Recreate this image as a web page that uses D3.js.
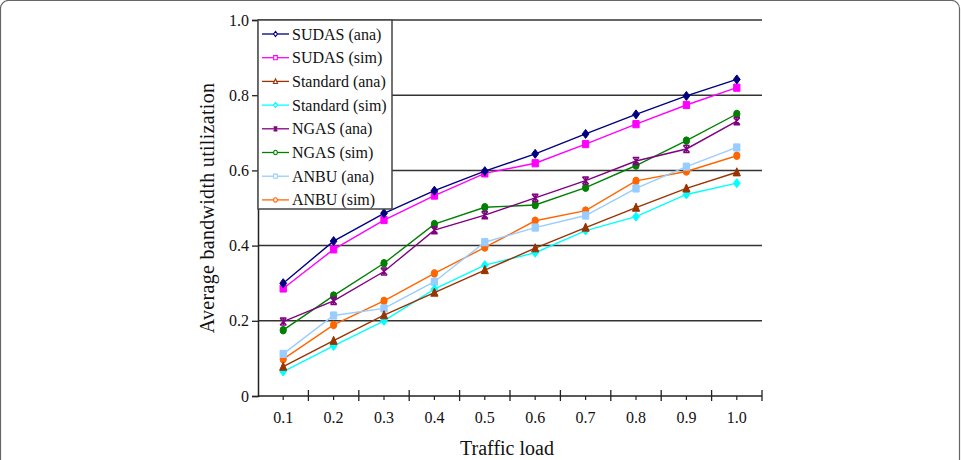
<!DOCTYPE html>
<html>
<head>
<meta charset="utf-8">
<script src="https://cdn.jsdelivr.net/npm/d3@7/dist/d3.min.js"></script>
<style>
  body { margin: 0; background: #fff; }
  svg { display: block; }
  svg text { font-family: "Liberation Serif", "Times New Roman", serif; }
</style>
</head>
<body>
<div id="chart"></div>
<script>
var loads = ["0.1", "0.2", "0.3", "0.4", "0.5", "0.6", "0.7", "0.8", "0.9", "1.0"];
var yTicks = [0, 0.2, 0.4, 0.6, 0.8, 1.0];

var sudasAna    = [0.300, 0.412, 0.486, 0.546, 0.598, 0.644, 0.697, 0.749, 0.798, 0.842];
var sudasSim    = [0.286, 0.390, 0.468, 0.533, 0.592, 0.619, 0.670, 0.723, 0.774, 0.820];
var standardAna = [0.078, 0.147, 0.215, 0.275, 0.335, 0.393, 0.448, 0.501, 0.552, 0.595];
var standardSim = [0.065, 0.133, 0.200, 0.284, 0.348, 0.381, 0.440, 0.477, 0.536, 0.566];
var ngasAna     = [0.198, 0.253, 0.331, 0.441, 0.481, 0.527, 0.573, 0.625, 0.657, 0.731];
var ngasSim     = [0.175, 0.267, 0.353, 0.457, 0.502, 0.508, 0.554, 0.613, 0.679, 0.750];
var anbuAna     = [0.112, 0.214, 0.233, 0.304, 0.409, 0.448, 0.480, 0.552, 0.610, 0.661];
var anbuSim     = [0.098, 0.189, 0.253, 0.326, 0.395, 0.466, 0.493, 0.572, 0.597, 0.639];

var seriesNames = ["SUDAS (ana)", "SUDAS (sim)", "Standard (ana)", "Standard (sim)",
                   "NGAS (ana)", "NGAS (sim)", "ANBU (ana)", "ANBU (sim)"];

// styling for each series (same order as seriesNames)
var styles = [
  {color: "#000080", shape: "diamond"},
  {color: "#ff00ff", shape: "square"},
  {color: "#993300", shape: "triangle"},
  {color: "#00ffff", shape: "diamond"},
  {color: "#800080", shape: "star"},
  {color: "#008000", shape: "circle"},
  {color: "#99ccff", shape: "square"},
  {color: "#ff6600", shape: "circle"}
];

var allValues = [sudasAna, sudasSim, standardAna, standardSim, ngasAna, ngasSim, anbuAna, anbuSim];
var series = seriesNames.map(function(name, i) {
  return {name: name, values: allValues[i], color: styles[i].color, shape: styles[i].shape};
});

var W = 961, H = 460;
var margin = {top: 20, right: 199, bottom: 64, left: 258},
    width = W - margin.left - margin.right,
    height = H - margin.top - margin.bottom;

var root = d3.select("#chart").append("svg")
    .attr("width", W)
    .attr("height", H);

// outer frame
root.append("rect")
    .attr("x", 0.5).attr("y", 0.5)
    .attr("width", W - 2).attr("height", H + 20)
    .attr("rx", 8)
    .attr("fill", "none")
    .attr("stroke", "#666")
    .attr("stroke-width", 1.2);

var svg = root.append("g")
    .attr("transform", "translate(" + margin.left + "," + margin.top + ")");

var x = d3.scaleBand().domain(loads).range([0, width]);
var y = d3.scaleLinear().domain([0, 1]).range([height, 0]);

// gridlines
svg.append("g").selectAll("line")
    .data(yTicks.filter(function(d) { return d > 0; }))
    .enter().append("line")
    .attr("x1", 0).attr("x2", width)
    .attr("y1", function(d) { return y(d); })
    .attr("y2", function(d) { return y(d); })
    .attr("stroke", "#333")
    .attr("stroke-width", 1.5);

// y axis
var yAxis = svg.append("g")
    .call(d3.axisLeft(y).tickValues(yTicks).tickSize(6).tickPadding(3)
      .tickFormat(function(d) { return d === 0 ? "0" : d3.format(".1f")(d); }));
yAxis.select(".domain").attr("stroke", "#222").attr("stroke-width", 1.5);
yAxis.selectAll(".tick line").attr("stroke", "#222").attr("stroke-width", 1.3);
yAxis.selectAll("text")
    .style("font-size", "16px")
    .style("font-family", "'Liberation Serif', serif")
    .attr("fill", "#111");

// x axis: long ticks between categories, short ticks at categories
var xAxis = svg.append("g").attr("transform", "translate(0," + height + ")");
xAxis.append("line")
    .attr("x1", 0).attr("x2", width)
    .attr("stroke", "#222").attr("stroke-width", 1.5);
var bounds = d3.range(loads.length + 1).map(function(i) { return i * x.step(); });
xAxis.selectAll(".major").data(bounds.slice(1))
    .enter().append("line")
    .attr("class", "major")
    .attr("x1", function(d) { return d; }).attr("x2", function(d) { return d; })
    .attr("y1", -6).attr("y2", 5)
    .attr("stroke", "#222").attr("stroke-width", 1.3);
xAxis.selectAll(".minor").data(loads)
    .enter().append("line")
    .attr("class", "minor")
    .attr("x1", function(d) { return x(d) + x.bandwidth() / 2; })
    .attr("x2", function(d) { return x(d) + x.bandwidth() / 2; })
    .attr("y1", 0).attr("y2", 4)
    .attr("stroke", "#222").attr("stroke-width", 1.2);
xAxis.selectAll(".lbl").data(loads)
    .enter().append("text")
    .attr("class", "lbl")
    .attr("x", function(d) { return x(d) + x.bandwidth() / 2; })
    .attr("y", 27)
    .attr("text-anchor", "middle")
    .style("font-size", "16px")
    .attr("fill", "#111")
    .text(function(d) { return d; });

// axis titles
svg.append("text")
    .attr("x", width / 2 - 3)
    .attr("y", height + 59)
    .attr("text-anchor", "middle")
    .style("font-size", "20px")
    .attr("fill", "#111")
    .text("Traffic load");

svg.append("text")
    .attr("transform", "rotate(-90)")
    .attr("x", -height / 2)
    .attr("y", -44)
    .attr("text-anchor", "middle")
    .style("font-size", "20px")
    .style("letter-spacing", "0.3px")
    .attr("fill", "#111")
    .text("Average bandwidth utilization");

// marker paths
function markerPath(shape, s) {
  if (shape === "diamond") return "M0," + (-s) + "L" + (s * 0.75) + ",0L0," + s + "L" + (-s * 0.75) + ",0Z";
  if (shape === "square") return "M" + (-s * 0.7) + "," + (-s * 0.8) + "h" + (s * 1.4) + "v" + (s * 1.6) + "h" + (-s * 1.4) + "Z";
  if (shape === "triangle") return "M0," + (-s) + "L" + (s * 0.8) + "," + (s * 0.8) + "L" + (-s * 0.8) + "," + (s * 0.8) + "Z";
  if (shape === "circle") return "M" + (-s * 0.7) + ",0a" + (s * 0.7) + "," + (s * 0.85) + " 0 1,0 " + (s * 1.4) + ",0a" + (s * 0.7) + "," + (s * 0.85) + " 0 1,0 " + (-s * 1.4) + ",0Z";
  // star: x with bars top and bottom
  return "M" + (-s * 0.7) + "," + (-s * 0.8) + "L" + (s * 0.7) + "," + (s * 0.8) +
         "M" + (s * 0.7) + "," + (-s * 0.8) + "L" + (-s * 0.7) + "," + (s * 0.8) +
         "M" + (-s * 0.7) + "," + (-s * 0.8) + "H" + (s * 0.7) +
         "M" + (-s * 0.7) + "," + (s * 0.8) + "H" + (s * 0.7) +
         "M0," + (-s * 0.8) + "V" + (s * 0.8);
}

var line = d3.line()
    .x(function(d, i) { return x(loads[i]) + x.bandwidth() / 2; })
    .y(function(d) { return y(d); });

// draw series, last first so SUDAS ends on top
var groups = svg.selectAll("g.series").data(series.slice().reverse())
    .enter().append("g").attr("class", "series");

groups.append("path")
    .attr("d", function(d) { return line(d.values); })
    .attr("fill", "none")
    .attr("stroke", function(d) { return d.color; })
    .attr("stroke-width", 1.4);

groups.selectAll("path.mk")
    .data(function(d) { return d.values.map(function(v, i) { return {v: v, i: i, s: d}; }); })
    .enter().append("path")
    .attr("class", "mk")
    .attr("transform", function(d) {
      return "translate(" + (x(loads[d.i]) + x.bandwidth() / 2) + "," + y(d.v) + ")";
    })
    .attr("d", function(d) { return markerPath(d.s.shape, 4.5); })
    .attr("fill", function(d) { return d.s.shape === "star" ? "none" : d.s.color; })
    .attr("stroke", function(d) { return d.s.color; })
    .attr("stroke-width", function(d) { return d.s.shape === "star" ? 1.4 : 1; });

// legend
var legend = svg.append("g");
legend.append("rect")
    .attr("x", 0).attr("y", 0)
    .attr("width", 134).attr("height", 189)
    .attr("fill", "#fff")
    .attr("stroke", "#444")
    .attr("stroke-width", 1.5);

var items = legend.selectAll("g.item").data(series)
    .enter().append("g")
    .attr("class", "item")
    .attr("transform", function(d, i) { return "translate(0," + (14 + i * 23.7) + ")"; });

items.append("line")
    .attr("x1", 4).attr("x2", 31)
    .attr("stroke", function(d) { return d.color; })
    .attr("stroke-width", 1.3);

items.append("path")
    .attr("transform", "translate(17.5,0)")
    .attr("d", function(d) { return markerPath(d.shape, 2.6); })
    .attr("fill", function(d) { return d.shape === "star" ? "none" : "#fff"; })
    .attr("stroke", function(d) { return d.color; })
    .attr("stroke-width", 1.1);

items.append("text")
    .attr("x", 34)
    .attr("y", 5.5)
    .style("font-size", "16px")
    .attr("fill", "#111")
    .text(function(d) { return d.name; });
</script>
</body>
</html>
